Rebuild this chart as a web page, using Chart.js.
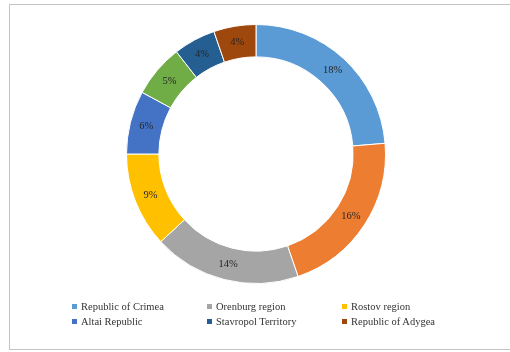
<!DOCTYPE html>
<html>
<head>
<meta charset="utf-8">
<script src="https://cdn.jsdelivr.net/npm/chart.js@4/dist/chart.umd.min.js"></script>
<style>
    html, body { margin: 0; padding: 0; background: #fff; }
    #wrap { position: relative; width: 510px; height: 352px; overflow: hidden; }
    #frame {
        position: absolute; left: 9px; top: 4px; width: 520px; height: 346px;
        border: 1px solid #c4c4c4; box-sizing: border-box;
    }
    #chart { position: absolute; left: 0; top: 0; }
    #legend {
        position: absolute; left: 72px; top: 299px;
        display: grid; grid-template-columns: 135px 135px 135px; grid-auto-rows: 15px;
        font-family: "Liberation Serif", "Times New Roman", serif; font-size: 10.5px; color: #333;
    }
    #legend .item { display: flex; align-items: center; white-space: nowrap; }
    #legend .box { width: 5px; height: 5px; margin-right: 4px; }
</style>
</head>
<body>
<div id="wrap">
    <div id="frame"></div>
    <canvas id="chart" width="510" height="352"></canvas>
    <div id="legend"></div>
</div>
<script>
// regions (two unnamed slices are not shown in the legend)
var regions = ["Republic of Crimea", "", "Orenburg region", "Rostov region", "Altai Republic", "", "Stavropol Territory", "Republic of Adygea"];
var shares = [18, 16, 14, 9, 6, 5, 4, 4];
var sliceColors = ["#5B9BD5", "#ED7D31", "#A5A5A5", "#FFC000", "#4472C4", "#70AD47", "#255E91", "#9E480E"];

// percent labels in the middle of each slice
var sliceLabels = {
    id: 'sliceLabels',
    afterDatasetsDraw: function (chart) {
        let ctx = chart.ctx;
        let meta = chart.getDatasetMeta(0);
        ctx.save();
        ctx.font = '10.5px "Liberation Serif", "Times New Roman", serif';
        ctx.fillStyle = '#262626';
        ctx.textAlign = 'center';
        ctx.textBaseline = 'middle';
        meta.data.forEach(function (arc, i) {
            let pos = arc.tooltipPosition();
            ctx.fillText(shares[i] + '%', pos.x, pos.y);
        });
        ctx.restore();
    }
};

var chart = new Chart(document.getElementById('chart'), {
    type: 'doughnut',
    data: {
        labels: regions,
        datasets: [{
            data: shares,
            backgroundColor: sliceColors,
            borderColor: '#ffffff',
            borderWidth: 1
        }]
    },
    options: {
        responsive: false,
        animation: false,
        cutout: '75%',
        layout: { padding: { top: 24, bottom: 68, left: 2, right: 0 } },
        plugins: {
            legend: { display: false },
            tooltip: { enabled: false }
        }
    },
    plugins: [sliceLabels]
});

// html legend, 3 columns like the original
var $legend = document.getElementById('legend');
regions.forEach(function (name, i) {
    if (!name)
        return;
    let item = document.createElement('div');
    item.className = 'item';
    let box = document.createElement('span');
    box.className = 'box';
    box.style.background = sliceColors[i];
    item.appendChild(box);
    item.appendChild(document.createTextNode(name));
    $legend.appendChild(item);
});
</script>
</body>
</html>
